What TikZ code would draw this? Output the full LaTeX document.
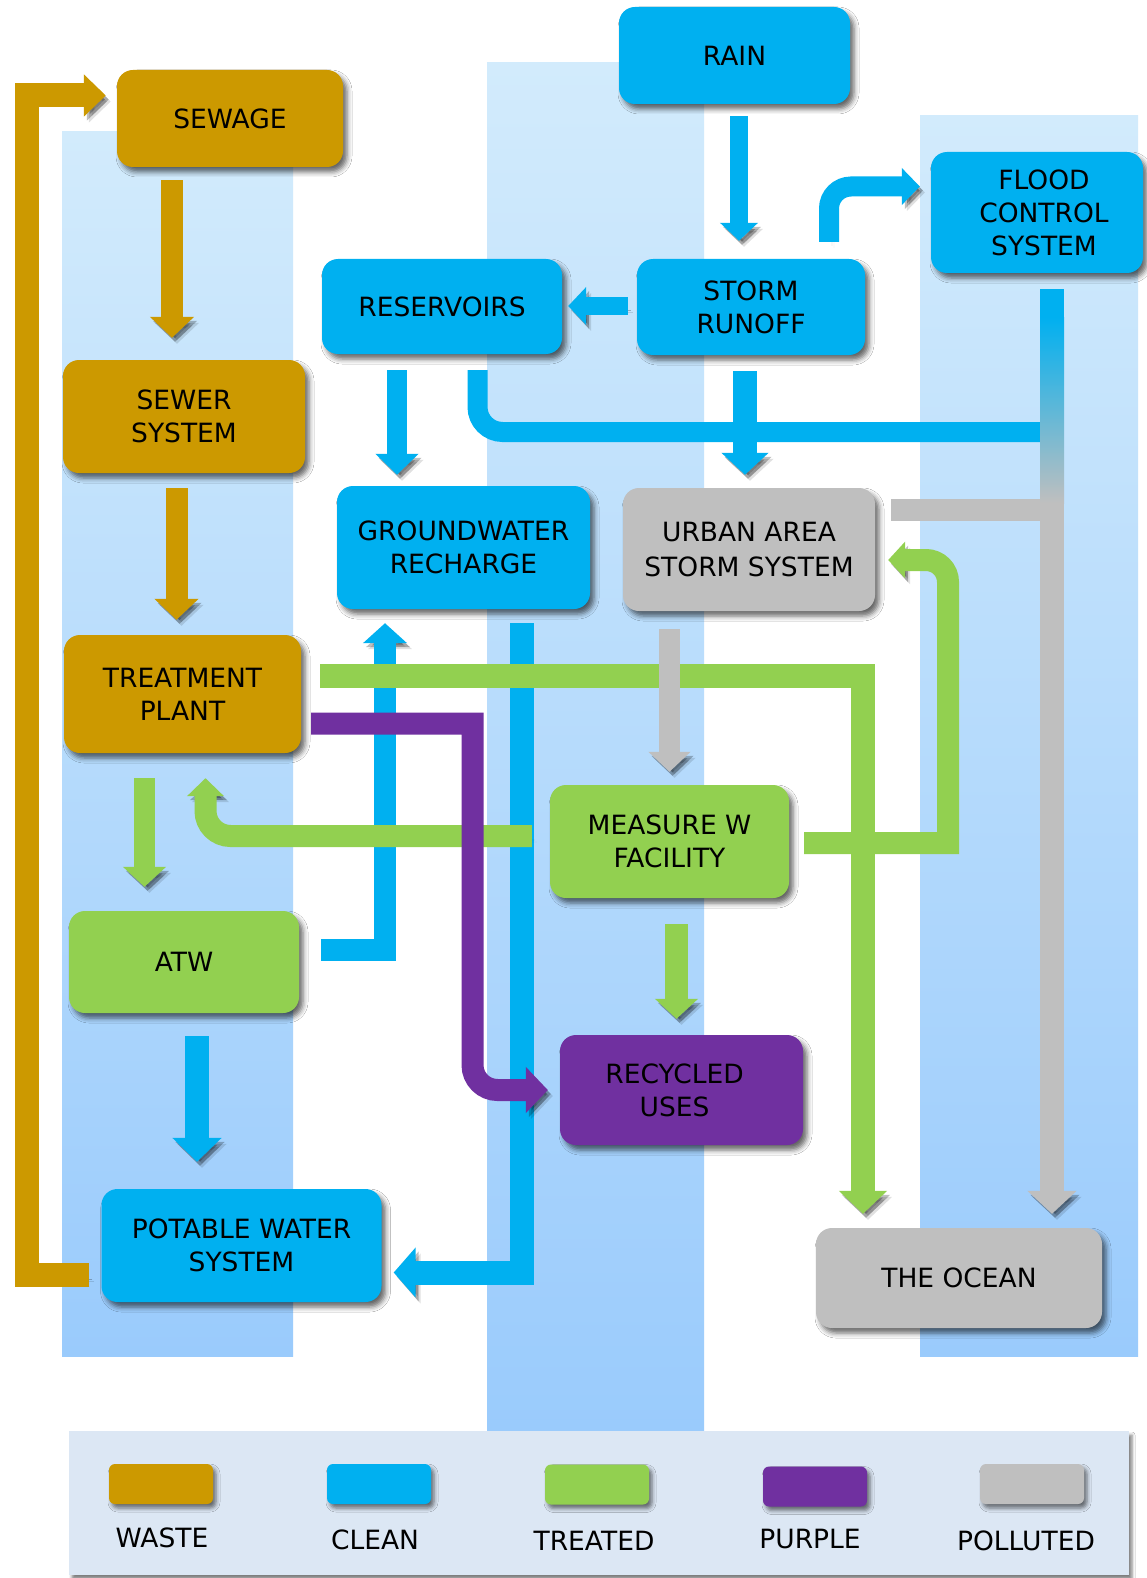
\documentclass[tikz,border=0pt]{standalone}
\usepackage{fontspec}
\setmainfont{DejaVu Sans}
\usetikzlibrary{arrows.meta,shadows,shadows.blur}
\definecolor{waste}{HTML}{CC9900}
\definecolor{clean}{HTML}{00B0F0}
\definecolor{treated}{HTML}{92D050}
\definecolor{purp}{HTML}{7030A0}
\definecolor{poll}{HTML}{BFBFBF}
\definecolor{coltop}{HTML}{D2EBFC}
\definecolor{colmid}{HTML}{C8DCF0}
\definecolor{colbot}{HTML}{9ACBFC}
\definecolor{legbg}{HTML}{DCE7F4}
\begin{document}
\begin{tikzpicture}[x=1pt,y=-1pt,
  box/.style={rounded corners=16pt, inner sep=0pt, align=center,
    font=\fontsize{26.5}{33}\selectfont, text=black,
    blur shadow={shadow xshift=4pt, shadow yshift=-5pt, shadow blur radius=5pt, shadow opacity=60}},
  swatch/.style={rounded corners=6pt, inner sep=0pt, minimum width=104pt, minimum height=40pt,
    blur shadow={shadow xshift=3pt, shadow yshift=-4pt, shadow blur radius=4pt, shadow opacity=55}},
  legtext/.style={inner sep=0pt, font=\fontsize{26.5}{32}\selectfont, text=black},
  sh/.style={preaction={draw=black, opacity=0.12, transform canvas={shift={(5pt,-6pt)}}},
             preaction={draw=black, opacity=0.25, transform canvas={shift={(3pt,-4pt)}}}},
  fl/.style n args={4}{draw=#1, line width=#2pt, -{Triangle[width=#3pt, length=#4pt]}, sh},
  bar/.style n args={2}{draw=#1, line width=#2pt, sh},
  column/.style={top color=coltop, middle color=colmid, bottom color=colbot}
]
\useasboundingbox (0,0) rectangle (1147,1578);
\fill[white] (0,0) rectangle (1147,1578);

% background columns
\shade[column] (62,132) rectangle (293,1356);
\shade[column] (487,63) rectangle (704,1431);
\shade[column] (920,116) rectangle (1138,1356);

% nodes
\node[box, fill=waste, minimum width=226pt, minimum height=97pt] (sewage) at (230,118.5) {SEWAGE};
\node[box, fill=waste, minimum width=242pt, minimum height=113pt] (sewer) at (184,416.5) {SEWER\\SYSTEM};
\node[box, fill=waste, minimum width=237pt, minimum height=118pt] (treatment) at (182.5,694) {TREATMENT\\PLANT};
\node[box, fill=treated, minimum width=230pt, minimum height=102pt] (atw) at (184,962) {ATW};
\node[box, fill=clean, minimum width=280pt, minimum height=113pt] (potable) at (241.5,1245.5) {POTABLE WATER\\SYSTEM};
\node[box, fill=clean, minimum width=231pt, minimum height=97pt] (rain) at (734.5,55.5) {RAIN};
\node[box, fill=clean, minimum width=228pt, minimum height=96pt] (storm) at (751,307) {STORM\\RUNOFF};
\node[box, fill=clean, minimum width=240pt, minimum height=95pt] (reservoirs) at (442,306.5) {RESERVOIRS};
\node[box, fill=clean, minimum width=212pt, minimum height=121pt] (flood) at (1037,212.5) {\hspace*{14pt}FLOOD\\\hspace*{14pt}CONTROL\\\hspace*{14pt}SYSTEM};
\node[box, fill=clean, minimum width=253pt, minimum height=123pt] (groundwater) at (463.5,547.5) {GROUNDWATER\\RECHARGE};
\node[box, fill=poll, minimum width=252pt, minimum height=123pt, font=\fontsize{26.5}{35}\selectfont] (urban) at (749,549.5) {URBAN AREA\\STORM SYSTEM};
\node[box, fill=treated, minimum width=239pt, minimum height=113pt] (measure) at (669.5,841.5) {MEASURE W\\FACILITY};
\node[box, fill=purp, minimum width=243pt, minimum height=110pt] (recycled) at (681.5,1090) {RECYCLED\hspace*{14pt}\\USES\hspace*{14pt}};
\node[box, fill=poll, minimum width=286pt, minimum height=100pt] (ocean) at (959,1278) {THE OCEAN};

\coordinate (fj1) at (1040,432);
\coordinate (fj2) at (1040,510);

% clean flows
\draw[fl={clean}{18}{37}{18}, shorten <=12pt, shorten >=18pt] (rain.south -| 739,0) -- (storm.north -| 739,0);
\draw[fl={clean}{18}{37}{18}, shorten <=9pt, shorten >=6pt] (storm.west |- 0,306) -- (reservoirs.east |- 0,306);
\draw[fl={clean}{20}{36}{18}, rounded corners=22pt, shorten <=17pt, shorten >=11pt] (storm.north -| 829,0) -- (829,186.5) -- (flood.west |- 0,186.5);
\draw[fl={clean}{20}{42}{21}, shorten <=16pt, shorten >=11pt] (reservoirs.south -| 397,0) -- (groundwater.north -| 397,0);
\draw[bar={clean}{20}, rounded corners=25pt, shorten <=16pt] (reservoirs.south -| 477.5,0) -- (477.5,432) -- (fj1);
\draw[bar={poll}{22}, shorten <=16pt] (urban.east |- 0,510) -- (fj2);
\draw[fl={poll}{24}{48}{23}, shorten <=16pt, shorten >=14pt] (flood.south -| 1052,0) -- (ocean.north -| 1052,0);
\fill[clean] (1040,289) rectangle (1064,318);
\shade[top color=clean, bottom color=poll] (1040,317.5) rectangle (1064,503);
\draw[fl={clean}{24}{46}{22}, shorten <=16pt, shorten >=13pt] (storm.south -| 745,0) -- (urban.north -| 745,0);
\draw[fl={clean}{22}{43}{20}, shorten <=22pt, shorten >=14pt] (atw.east |- 0,949.5) -- (385,949.5) -- (groundwater.south -| 385,0);
\draw[fl={clean}{24}{49}{22}, shorten <=14pt, shorten >=12pt] (groundwater.south -| 521.5,0) -- (521.5,1272.5) -- (potable.east |- 0,1272.5);
\draw[fl={clean}{24}{48}{24}, shorten <=23pt, shorten >=27pt] (atw.south -| 197,0) -- (potable.north -| 197,0);

% waste flows
\draw[fl={waste}{22}{43}{21}, shorten <=13pt, shorten >=22pt] (sewage.south -| 172,0) -- (sewer.north -| 172,0);
\draw[fl={waste}{22}{43}{21}, shorten <=15pt, shorten >=15pt] (sewer.south -| 176.5,0) -- (treatment.north -| 176.5,0);
\draw[fl={waste}{24}{41}{22}, shorten <=12pt, shorten >=11pt] (potable.west |- 0,1275) -- (26.5,1275) -- (26.5,95.5) -- (sewage.west |- 0,95.5);

% treated flows
\draw[fl={treated}{21}{42}{20}, shorten <=25pt, shorten >=24pt] (treatment.south -| 144.5,0) -- (atw.north -| 144.5,0);
\draw[fl={treated}{22}{36}{18}, rounded corners=25pt, shorten <=18pt, shorten >=25pt] (measure.west |- 0,836) -- (205.5,836) -- (treatment.south -| 205.5,0);
\draw[fl={treated}{22}{36}{17}, shorten <=15pt, shorten >=13pt] (measure.east |- 0,843) -- (948,843) -- (948,700) [rounded corners=22pt] -- (948,560) -- (urban.east |- 0,560);
\draw[fl={treated}{24}{47}{23}, shorten <=19pt, shorten >=14pt] (treatment.east |- 0,675.5) -- (863,675.5) -- (ocean.north -| 863,0);
\draw[fl={treated}{23}{42}{20}, shorten <=26pt, shorten >=16pt] (measure.south -| 676.5,0) -- (recycled.north -| 676.5,0);

% purple flow
\draw[fl={purp}{22}{45}{22}, shorten <=10pt, shorten >=12pt] (treatment.east |- 0,723.5) -- (472.5,723.5) -- (472.5,900) [rounded corners=25pt] -- (472.5,1090) -- (recycled.west |- 0,1090);

% polluted flow
\draw[fl={poll}{21}{41}{20}, shorten <=18pt, shorten >=13pt] (urban.south -| 669.5,0) -- (measure.north -| 669.5,0);

% legend
\node[fill=legbg, inner sep=0pt, minimum width=1060pt, minimum height=144pt,
  blur shadow={shadow xshift=3pt, shadow yshift=-4pt, shadow blur radius=3pt, shadow opacity=50}] (legend) at (599,1503) {};
\node[swatch, fill=waste] (sw1) at (161,1484) {};
\node[swatch, fill=clean] (sw2) at (379,1484) {};
\node[swatch, fill=treated] (sw3) at (597,1484.5) {};
\node[swatch, fill=purp] (sw4) at (815,1486.5) {};
\node[swatch, fill=poll] (sw5) at (1032,1484) {};
\node[legtext] (lg1) at (162,1538) {WASTE};
\node[legtext] (lg2) at (375,1540) {CLEAN};
\node[legtext] (lg3) at (594,1541) {TREATED};
\node[legtext] (lg4) at (810,1539) {PURPLE};
\node[legtext] (lg5) at (1026,1541) {POLLUTED};
\end{tikzpicture}
\end{document}
